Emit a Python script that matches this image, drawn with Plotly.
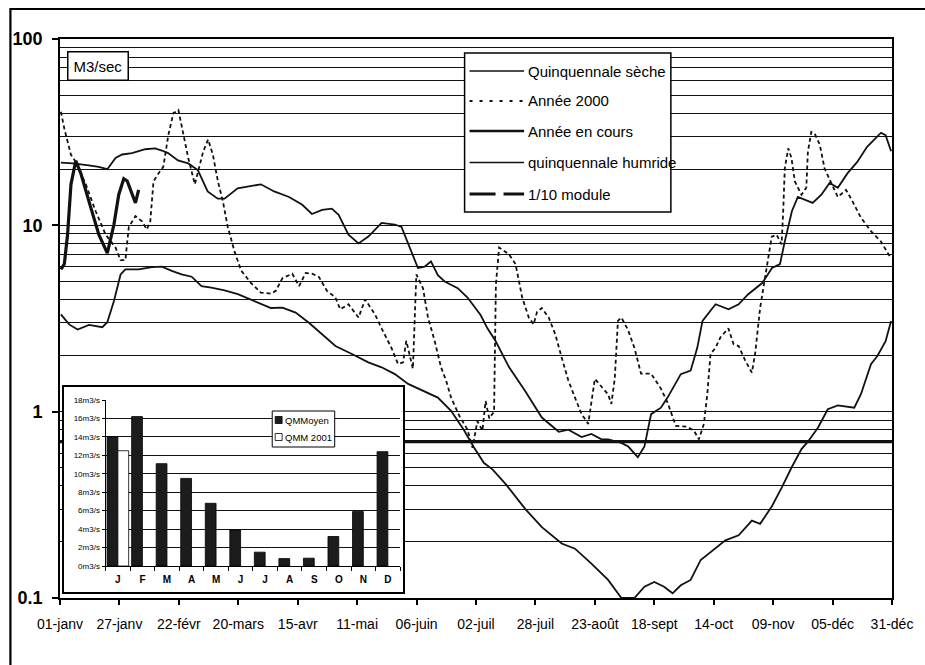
import plotly.graph_objects as go

# ---------------- data ----------------
tick_days = [0, 26, 52, 78, 104, 130, 156, 182, 208, 234, 260, 286, 312, 338, 364]
tick_labels = ["01-janv", "27-janv", "22-févr", "20-mars", "15-avr", "11-mai", "06-juin",
               "02-juil", "28-juil", "23-août", "18-sept", "14-oct", "09-nov", "05-déc", "31-déc"]

seche_day = [0.4, 4.0, 7.7, 12.7, 18.5, 20.7, 23.6, 26.5, 28.6, 34.4, 40.2, 44.6, 48.9, 53.2, 57.6,
             61.9, 66.2, 72.0, 77.8, 85.0, 92.3, 97.3, 103.1, 108.9, 114.7, 120.5, 127.7, 134.9,
             140.7, 146.5, 152.3, 159.5, 165.3, 171.1, 176.9, 181.2, 185.5, 189.2, 194.9, 203.6,
             210.8, 219.5, 225.3, 232.5, 239.8, 245.6, 251.3, 255.7, 260.0, 264.3, 268.0, 271.6,
             275.9, 280.3, 285.3, 291.1, 296.9, 302.7, 306.3, 311.4, 315.7, 320.0, 324.4, 327.2,
             331.6, 335.9, 340.3, 347.5, 350.4, 354.8, 357.6, 361.2, 363.6]
seche_val = [3.33, 2.94, 2.76, 2.92, 2.84, 3.02, 3.93, 5.45, 5.8, 5.8, 5.96, 6.0, 5.7, 5.45, 5.3,
             4.72, 4.63, 4.47, 4.27, 3.93, 3.6, 3.62, 3.4, 3.0, 2.6, 2.25, 2.04, 1.84,
             1.73, 1.59, 1.41, 1.29, 1.19, 1.01, 0.79, 0.64, 0.53, 0.49, 0.41, 0.30,
             0.24, 0.196, 0.184, 0.153, 0.125, 0.10, 0.10, 0.115, 0.122, 0.115, 0.106, 0.117,
             0.125, 0.16, 0.18, 0.204, 0.217, 0.26, 0.25, 0.31, 0.39, 0.50, 0.63, 0.69,
             0.82, 1.03, 1.08, 1.05, 1.24, 1.8, 1.99, 2.39, 3.07]

humide_day = [0.4, 5.6, 12.6, 16.9, 20.7, 24.3, 27.2, 31.5, 37.3, 41.6, 44.6, 47.3, 51.6, 56.1,
              60.3, 64.6, 69.0, 72.0, 77.7, 82.1, 87.9, 93.7, 100.2, 106.0, 110.2, 114.7, 118.9,
              121.9, 126.2, 130.6, 134.9, 140.7, 146.5, 149.4, 153.6, 156.6, 159.5, 162.3, 165.3,
              168.3, 174.0, 178.3, 184.0, 187.0, 190.5, 196.5, 203.5, 210.8, 218.2, 222.4, 228.2,
              232.5, 236.9, 239.8, 245.6, 248.6, 252.8, 255.7, 258.6, 262.9, 265.8, 271.6, 275.9,
              278.8, 281.1, 286.8, 292.5, 296.9, 301.1, 307.2, 311.5, 315.0, 317.1, 320.2, 322.8,
              325.8, 329.3, 333.1, 336.7, 340.3, 344.5, 348.8, 353.1, 359.2, 361.2, 363.6]
humide_val = [21.7, 21.5, 21.0, 20.6, 20.0, 23.0, 24.0, 24.4, 25.6, 25.9, 25.2, 24.4, 22.3, 21.5,
              19.8, 15.2, 13.9, 13.9, 15.8, 16.2, 16.6, 15.2, 14.2, 12.9, 11.5, 12.1, 12.3,
              11.4, 8.9, 8.0, 8.7, 10.3, 10.1, 9.8, 7.3, 5.9, 6.0, 6.4, 5.4,
              5.0, 4.6, 4.1, 3.3, 2.8, 2.4, 1.73, 1.29, 0.93, 0.78, 0.80, 0.73,
              0.76, 0.71, 0.71, 0.68, 0.65, 0.57, 0.65, 0.97, 1.05, 1.19, 1.59, 1.66,
              2.2, 3.07, 3.77, 3.54, 3.77, 4.27, 4.9, 5.9, 6.2, 8.2, 11.9, 14.2,
              13.7, 13.2, 14.6, 16.9, 15.9, 19.0, 21.9, 26.4, 31.4, 30.5, 25.0]

an2000_day = [0.4, 1.9, 4.8, 6.9, 11.3, 15.6, 20.0, 24.3, 26.5, 28.6, 30.1, 33.0, 35.9, 38.0, 39.5,
              40.9, 43.1, 45.2, 47.4, 49.6, 51.8, 53.9, 56.1, 59.0, 60.4, 62.6, 64.8, 66.9, 69.1,
              71.3, 73.4, 76.4, 79.3, 83.6, 87.9, 92.3, 94.4, 97.3, 101.6, 104.6, 107.5, 110.2,
              113.2, 116.8, 120.5, 122.6, 126.2, 130.6, 133.5, 137.8, 140.7, 145.0, 147.9, 150.1,
              151.5, 153.0, 154.4, 155.9, 158.8, 161.0, 163.9, 166.7, 168.9, 171.1, 174.7, 178.3,
              180.5, 182.6, 184.8, 186.2, 187.8, 189.9, 190.7, 192.1, 193.5, 196.4, 199.3, 202.2,
              205.1, 207.2, 208.7, 210.8, 213.8, 216.7, 219.5, 222.4, 225.3, 228.2, 231.1, 232.5,
              234.0, 237.6, 239.8, 241.2, 242.7, 244.1, 245.6, 248.5, 251.3, 254.2, 258.6, 262.9,
              265.8, 269.4, 274.5, 277.4, 279.5, 281.7, 283.2, 284.6, 286.8, 288.9, 291.1, 292.4,
              294.7, 296.9, 299.8, 302.7, 304.1, 306.3, 307.7, 309.2, 311.4, 313.5, 315.7, 316.4,
              317.1, 318.6, 320.0, 321.5, 324.4, 326.5, 327.2, 328.7, 330.2, 332.4, 334.5, 337.4,
              340.3, 343.9, 346.1, 350.4, 354.8, 359.1, 363.4]
an2000_val = [40.7, 33.0, 23.9, 21.9, 16.6, 11.9, 8.9, 7.6, 6.5, 6.5, 9.8, 11.2, 10.5, 9.5, 10.5,
              17.2, 19.0, 20.6, 30.5, 40.0, 41.6, 30.5, 23.0, 16.6, 19.4, 24.8, 28.9, 23.9, 17.2,
              13.4, 9.8, 7.2, 5.7, 4.9, 4.35, 4.3, 4.45, 5.2, 5.5, 4.72, 5.55, 5.5,
              5.3, 4.45, 4.1, 3.54, 3.77, 3.2, 4.0, 3.33, 2.8, 2.2, 1.8, 1.84,
              2.4, 2.04, 1.7, 5.45, 4.6, 3.2, 2.4, 1.73, 1.47, 1.19, 0.95, 0.80,
              0.64, 0.89, 0.79, 1.14, 0.92, 1.0, 4.8, 7.6, 7.4, 7.0, 6.2, 4.1,
              3.2, 2.94, 3.43, 3.6, 3.2, 2.6, 1.95, 1.47, 1.19, 0.97, 0.86, 1.1,
              1.5, 1.33, 1.24, 1.1, 1.5, 3.07, 3.2, 2.75, 2.2, 1.6, 1.6, 1.33,
              1.12, 0.84, 0.83, 0.79, 0.71, 0.86, 1.24, 2.04, 2.2, 2.5, 2.7, 2.8,
              2.3, 2.25, 1.88, 1.62, 2.04, 3.6, 4.6, 5.9, 8.7, 8.9, 7.9, 11.9,
              20.2, 25.9, 23.0, 17.2, 14.6, 15.9, 24.8, 31.7, 31.0, 27.1, 20.2, 16.9,
              14.2, 15.5, 13.9, 11.0, 9.3, 8.2, 6.7]

cours_day = [0.4, 1.9, 3.3, 4.8, 6.9, 9.1, 12.7, 17.0, 20.7, 23.6, 25.7, 27.9, 29.4, 31.5, 33.0, 34.4]
cours_val = [5.8, 6.2, 8.9, 16.6, 22.2, 19.0, 13.4, 8.9, 7.1, 10.1, 14.6, 17.8, 17.3, 14.6, 13.2, 15.5]

module_10 = 0.69

months = ["J", "F", "M", "A", "M", "J", "J", "A", "S", "O", "N", "D"]
qmm_moyen = [14.0, 16.2, 11.1, 9.5, 6.8, 3.9, 1.5, 0.8, 0.85, 3.2, 5.9, 12.4]
qmm_2001 = [12.5, None, None, None, None, None, None, None, None, None, None, None]
inset_ticks = [0, 2, 4, 6, 8, 10, 12, 14, 16, 18]

series_names = ["Quinquennale sèche", "Année 2000", "Année en cours", "quinquennale humride", "1/10 module"]
inset_names = ["QMMoyen", "QMM 2001"]

# ---------------- layout helpers ----------------
W, H = 925, 665
ML, MR, MT, MB = 59, 27, 39, 67
PW, PH = W - ML - MR, H - MT - MB


def px(X):
    return (X - ML) / PW


def py(Y):
    return (H - MB - Y) / PH


SANS = "Liberation Sans, Arial, sans-serif"
INK = "#111111"

styles = {
    "Quinquennale sèche": dict(color=INK, width=1.8, dash="solid"),
    "Année 2000": dict(color=INK, width=1.8, dash="4px,3px"),
    "Année en cours": dict(color=INK, width=3.2, dash="solid"),
    "quinquennale humride": dict(color=INK, width=1.8, dash="solid"),
    "1/10 module": dict(color=INK, width=3.2, dash="solid"),
}
legend_dash = {"Année 2000": "3px,7px", "1/10 module": "26px,8px"}
legend_width = {"Année en cours": 2.6, "Année 2000": 2.0, "Quinquennale sèche": 1.5,
                "quinquennale humride": 1.5, "1/10 module": 3.2}
bar_colors = {"QMMoyen": "#1c1c1c", "QMM 2001": "white"}

fig = go.Figure()

# main series
fig.add_trace(go.Scatter(x=seche_day, y=seche_val, mode="lines", name=series_names[0],
                         line=styles[series_names[0]], showlegend=False, hoverinfo="skip"))
fig.add_trace(go.Scatter(x=an2000_day, y=an2000_val, mode="lines", name=series_names[1],
                         line=styles[series_names[1]], showlegend=False, hoverinfo="skip"))
fig.add_trace(go.Scatter(x=humide_day, y=humide_val, mode="lines", name=series_names[3],
                         line=styles[series_names[3]], showlegend=False, hoverinfo="skip"))
fig.add_trace(go.Scatter(x=[tick_days[0], tick_days[-1]], y=[module_10, module_10], mode="lines",
                         name=series_names[4], line=styles[series_names[4]], showlegend=False,
                         hoverinfo="skip"))
fig.add_trace(go.Scatter(x=cours_day, y=cours_val, mode="lines", name=series_names[2],
                         line=styles[series_names[2]], showlegend=False, hoverinfo="skip"))

# white framed box behind the inset (subplot x2y2)
fig.add_trace(go.Scatter(x=[None], y=[None], xaxis="x2", yaxis="y2", showlegend=False,
                         hoverinfo="skip"))

# inset bar chart (subplot x3y3)
fig.add_trace(go.Bar(x=list(range(len(months))), y=qmm_moyen, name=inset_names[0], xaxis="x3", yaxis="y3",
                     marker=dict(color=bar_colors[inset_names[0]], line=dict(color="black", width=0.8)),
                     showlegend=False, hoverinfo="skip"))
fig.add_trace(go.Bar(x=list(range(len(months))), y=qmm_2001, name=inset_names[1], xaxis="x3", yaxis="y3",
                     marker=dict(color=bar_colors[inset_names[1]], line=dict(color="black", width=0.8)),
                     showlegend=False, hoverinfo="skip"))

minor_vals = [m * 10 ** e for e in (-1, 0, 1) for m in range(2, 10)]

box_x = [px(63), px(405)]
box_y = [py(592), py(387)]
ins_x = [px(105), px(402)]
ins_y = [py(566), py(400)]

fig.update_layout(
    width=W, height=H,
    margin=dict(l=ML, r=MR, t=MT, b=MB, pad=0),
    paper_bgcolor="white", plot_bgcolor="white",
    barmode="group", bargap=0.12, bargroupgap=0.0,
    showlegend=False,
    xaxis=dict(range=[tick_days[0], tick_days[-1]], tickmode="array", tickvals=tick_days,
               ticktext=tick_labels, ticks="outside", ticklen=5, tickwidth=1.5, tickcolor="black",
               tickfont=dict(family=SANS, size=14, color="black"), ticklabelstandoff=7,
               showgrid=False, zeroline=False, showline=True, linecolor="black", linewidth=1.8,
               mirror=True),
    xaxis4=dict(overlaying="x", anchor="y", side="bottom", range=[tick_days[0], tick_days[-1]],
                tickmode="array", tickvals=tick_days, ticks="inside", ticklen=5, tickwidth=1.5,
                tickcolor="black", showticklabels=False, showgrid=False, zeroline=False,
                showline=False),
    yaxis=dict(type="log", range=[-1, 2], tickmode="array", tickvals=[0.1, 1, 10, 100],
               ticktext=["0.1", "1", "10", "100"], ticks="outside", ticklen=6, tickwidth=1.5,
               tickcolor="black", tickfont=dict(family=SANS, size=18, color="black", weight="bold"),
               ticklabelstandoff=6,
               showgrid=True, gridcolor=INK, gridwidth=1.2,
               minor=dict(tickmode="array", tickvals=minor_vals, showgrid=True, gridcolor=INK,
                          gridwidth=1.2, ticks=""),
               zeroline=False, showline=True, linecolor="black", linewidth=1.8, mirror=True),
    xaxis2=dict(domain=box_x, anchor="y2", range=[0, 1], showticklabels=False,
                ticks="", showgrid=False, zeroline=False, showline=True, linecolor="black",
                linewidth=1.5, mirror=True, fixedrange=True),
    yaxis2=dict(domain=box_y, anchor="x2", range=[0, 1], showticklabels=False, ticks="",
                showgrid=False, zeroline=False, showline=True, linecolor="black", linewidth=1.5,
                mirror=True, fixedrange=True),
    xaxis3=dict(domain=ins_x, anchor="y3", range=[-0.5, len(months) - 0.5], tickmode="array",
                tickvals=list(range(len(months))), ticktext=months, ticks="",
                tickfont=dict(family=SANS, size=10, color="black", weight="bold"),
                ticklabelstandoff=4,
                minor=dict(tickmode="array", tickvals=[i - 0.5 for i in range(len(months) + 1)],
                           ticks="outside", ticklen=4, tickcolor="black", showgrid=False),
                showgrid=False, zeroline=False, showline=True, linecolor="black", linewidth=1.2),
    yaxis3=dict(domain=ins_y, anchor="x3", range=[inset_ticks[0], inset_ticks[-1]], tickmode="array",
                tickvals=inset_ticks, ticktext=[f"{v}m3/s" for v in inset_ticks], ticks="outside",
                ticklen=3, tickcolor="black",
                tickfont=dict(family=SANS, size=8, color="black"), showgrid=True, gridcolor=INK,
                gridwidth=1, zeroline=False, showline=True, linecolor="black", linewidth=1.2),
)

# outer frame of the picture
fig.add_shape(type="rect", xref="paper", yref="paper", x0=px(9), x1=px(940), y0=py(690), y1=py(9),
              line=dict(color="black", width=2.2), fillcolor="rgba(0,0,0,0)", layer="above")

# unit label
fig.add_annotation(xref="paper", yref="paper", x=px(97), y=py(65.5), text="M3/sec", showarrow=False,
                   xanchor="center", yanchor="middle",
                   font=dict(family=SANS, size=15, color="black"), bgcolor="white",
                   bordercolor="black", borderwidth=1.5, borderpad=5)

# main legend (box, line samples, labels)
fig.add_shape(type="rect", xref="paper", yref="paper", x0=px(467), x1=px(675), y0=py(212), y1=py(53),
              line=dict(color="black", width=1.5), fillcolor="white", layer="above")
legend_rows = [71, 101, 131, 162.5, 194]
for name, row in zip(series_names, legend_rows):
    st = styles[name]
    fig.add_shape(type="line", xref="paper", yref="paper", x0=px(472), x1=px(527), y0=py(row), y1=py(row),
                  line=dict(color=st["color"], width=legend_width[name],
                            dash=legend_dash.get(name, "solid")),
                  layer="above")
    fig.add_annotation(xref="paper", yref="paper", x=px(529), y=py(row), text=name, showarrow=False,
                       xanchor="left", yanchor="middle", font=dict(family=SANS, size=15, color="black"))

# inset legend
fig.add_shape(type="rect", xref="paper", yref="paper", x0=px(273), x1=px(336), y0=py(447), y1=py(411),
              line=dict(color="black", width=1), fillcolor="white", layer="above")
for name, row in zip(inset_names, [420, 437]):
    fig.add_shape(type="rect", xref="paper", yref="paper", x0=px(276), x1=px(283), y0=py(row + 3.5),
                  y1=py(row - 3.5), line=dict(color="black", width=0.8), fillcolor=bar_colors[name],
                  layer="above")
    fig.add_annotation(xref="paper", yref="paper", x=px(284), y=py(row), text=name, showarrow=False,
                       xanchor="left", yanchor="middle", font=dict(family=SANS, size=9.5, color="black"))

fig.write_html("out.html", config={"displayModeBar": False},
               post_script="document.body.style.margin='0';document.body.style.overflow='hidden';")
